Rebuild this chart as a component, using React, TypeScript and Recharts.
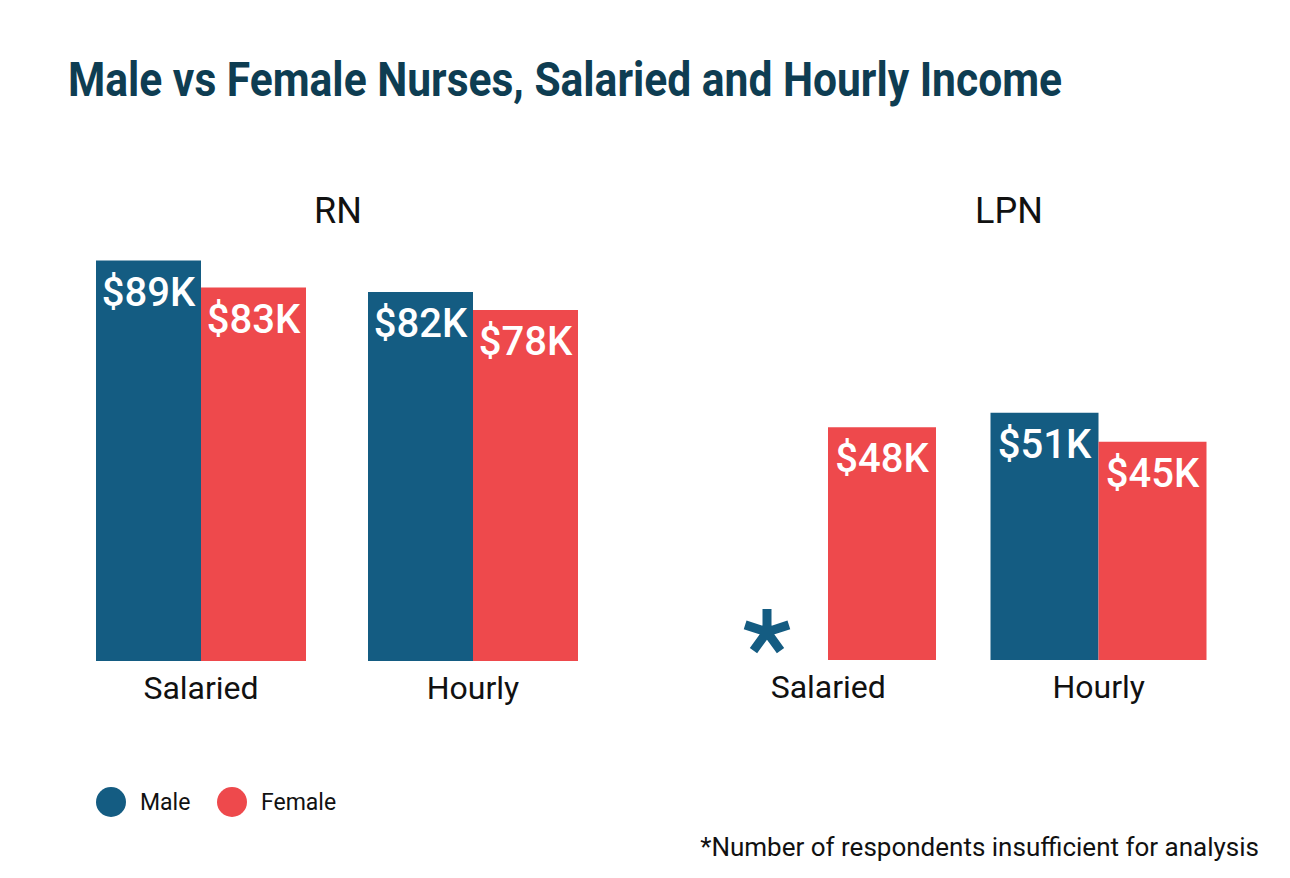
import React from "react";
import { BarChart, Bar, XAxis, YAxis, LabelList } from "recharts";

// categories shared by both panels
const categories = ["Salaried", "Hourly"];

// RN incomes, in thousands of dollars
const rnMale = [89, 82];
const rnFemale = [83, 78];

// LPN incomes (male salaried: not enough respondents)
const lpnMale: (number | null)[] = [null, 51];
const lpnFemale = [48, 45];

const seriesNames = ["Male", "Female"];
const seriesColors = ["#145c82", "#ee494c"];

const titleText = "Male vs Female Nurses, Salaried and Hourly Income";
const footnoteText = "*Number of respondents insufficient for analysis";

const FONT = "Roboto, 'Noto Sans', sans-serif";

const buildData = (male: (number | null)[], female: (number | null)[]) =>
  categories.map((name, i) => ({ name, male: male[i], female: female[i] }));

const rnData = buildData(rnMale, rnFemale);
const lpnData = buildData(lpnMale, lpnFemale);

// label inside the top of each bar
const ValueLabel = (props: any) => {
  const { x, y, width, value } = props;
  if (value == null) return null;
  return (
    <text
      x={Number(x) + Number(width) / 2}
      y={Number(y) + 45}
      textAnchor="middle"
      fill="#ffffff"
      fontSize={40}
      fontWeight={500}
      fontFamily={FONT}
    >
      {`$${value}K`}
    </text>
  );
};

// asterisk in the empty male slot, drawn next to the female bar of the same group
const MissingMarker = (props: any) => {
  const { x, y, width, height, index, rows } = props;
  const row = rows[index];
  if (!row || row.male != null) return null;
  const cx = Number(x) - Number(width) / 2 - 7;
  const cy = Number(y) + Number(height) - 28;
  const arm = 23;
  const d = [0, 1, 2, 3, 4]
    .map((k) => {
      const a = (-90 + k * 72) * (Math.PI / 180);
      return `M${cx},${cy}L${cx + arm * Math.cos(a)},${cy + arm * Math.sin(a)}`;
    })
    .join("");
  return <path d={d} stroke={seriesColors[0]} strokeWidth={9} fill="none" />;
};

const CategoryTick = (props: any) => {
  const { x, y, payload } = props;
  return (
    <text
      x={x}
      y={y + 38}
      textAnchor="middle"
      fill="#111111"
      fontSize={32}
      fontFamily={FONT}
    >
      {payload.value}
    </text>
  );
};

interface PanelProps {
  data: any[];
  max: number;
  left: number;
  top: number;
  width: number;
  plotHeight: number;
  barSize: number;
}

const Panel = ({ data, max, left, top, width, plotHeight, barSize }: PanelProps) => (
  <div style={{ position: "absolute", left, top }}>
    <BarChart
      width={width}
      height={plotHeight + 60}
      data={data}
      margin={{ top: 0, right: 0, bottom: 0, left: 0 }}
      barGap={0}
      barSize={barSize}
    >
      <XAxis
        dataKey="name"
        axisLine={false}
        tickLine={false}
        tickSize={0}
        tickMargin={0}
        height={60}
        tick={<CategoryTick />}
        interval={0}
      />
      <YAxis hide domain={[0, max]} />
      <Bar dataKey="male" name={seriesNames[0]} fill={seriesColors[0]} isAnimationActive={false}>
        <LabelList dataKey="male" content={<ValueLabel />} />
      </Bar>
      <Bar dataKey="female" name={seriesNames[1]} fill={seriesColors[1]} isAnimationActive={false}>
        <LabelList dataKey="female" content={<ValueLabel />} />
        <LabelList dataKey="female" content={<MissingMarker rows={data} />} />
      </Bar>
    </BarChart>
  </div>
);

export default function App() {
  return (
    <div
      style={{
        position: "absolute",
        left: 0,
        top: 0,
        width: 1290,
        height: 878,
        background: "#ffffff",
        fontFamily: FONT,
        overflow: "hidden",
      }}
    >
      <svg width={1290} height={878} style={{ position: "absolute", left: 0, top: 0 }}>
        <text
          x={68}
          y={96}
          fontSize={48}
          fontWeight={700}
          fill="#0e3d52"
          fontFamily={FONT}
          textLength={994}
          lengthAdjust="spacingAndGlyphs"
        >
          {titleText}
        </text>
        <text x={338} y={223} textAnchor="middle" fontSize={36} fill="#111111" fontFamily={FONT}>
          RN
        </text>
        <text x={1009} y={223} textAnchor="middle" fontSize={36} fill="#111111" fontFamily={FONT}>
          LPN
        </text>
        {seriesNames.map((name, i) => {
          const cx = i === 0 ? 111 : 232;
          return (
            <g key={name}>
              <circle cx={cx} cy={802} r={15} fill={seriesColors[i]} />
              <text x={cx + 29} y={810} fontSize={23} fill="#111111" fontFamily={FONT}>
                {name}
              </text>
            </g>
          );
        })}
        <text x={1259} y={856} textAnchor="end" fontSize={26} fill="#111111" fontFamily={FONT}>
          {footnoteText}
        </text>
      </svg>
      <Panel data={rnData} max={100} left={65} top={211} width={544} plotHeight={450} barSize={105} />
      <Panel data={lpnData} max={60} left={693} top={369} width={541} plotHeight={291} barSize={108} />
    </div>
  );
}
